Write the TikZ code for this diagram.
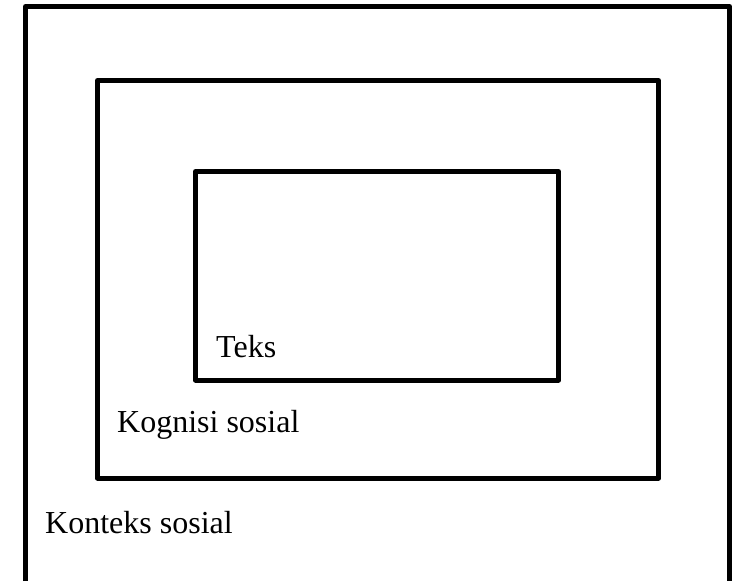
\documentclass[tikz,border=0pt]{standalone}
\usepackage{fontspec}
\setmainfont{Liberation Serif}
\begin{document}
\begin{tikzpicture}%
	[x=1pt,
	y=-1pt,
	frame/.style={line width=5pt, line join=round},
	label/.style={anchor=base west, inner sep=0pt, font=\fontsize{32}{36}\selectfont}]
%
%% Bounding box of the page
\useasboundingbox (0,0) rectangle (741,581);
%%
%% Corners of the frames
%%
\coordinate (outer-bl) at (25.5,581);
\coordinate (outer-tl) at (25.5,6.5);
\coordinate (outer-tr) at (729.5,6.5);
\coordinate (outer-br) at (729.5,581);
\coordinate (middle-tl) at (97.5,80.5);
\coordinate (middle-br) at (658.5,478);
\coordinate (inner-tl) at (195.5,171.5);
\coordinate (inner-br) at (558.5,380);
%%
%% Drawing the frames
%%
\draw[frame] (outer-bl) -- (outer-tl) -- (outer-tr) -- (outer-br);
\draw[frame] (middle-tl) rectangle (middle-br);
\draw[frame] (inner-tl) rectangle (inner-br);
%%
%% Drawing the labels
%%
\node[label] (teks) at (216,357) {Teks};
\node[label] (kognisi) at (117,432) {Kognisi sosial};
\node[label] (konteks) at (45,533) {Konteks sosial};
%%
\end{tikzpicture}
\end{document}
